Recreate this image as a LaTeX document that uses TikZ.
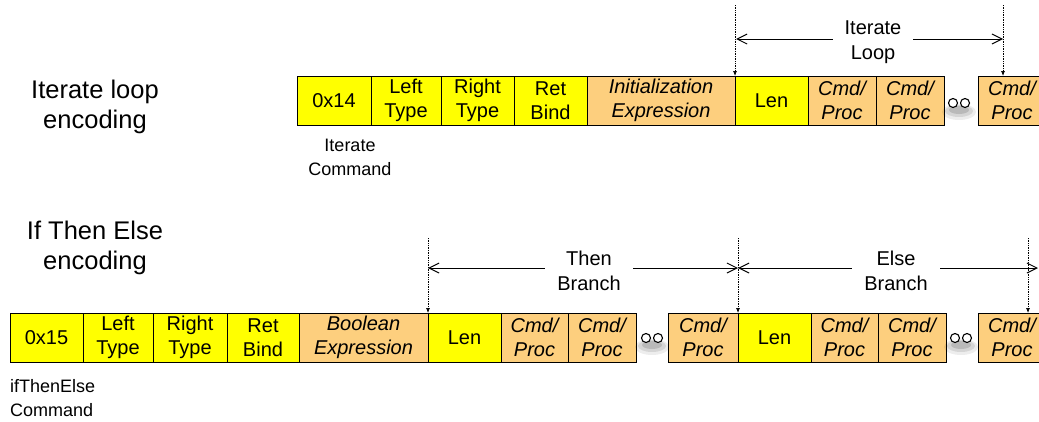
\documentclass[tikz,border=0pt]{standalone}
\usepackage{fontspec}
\setmainfont{Liberation Sans}
\usetikzlibrary{arrows.meta,calc}
\definecolor{cyel}{HTML}{FFFF00}
\definecolor{corg}{HTML}{FDCF7E}
\tikzset{
  cell/.style={draw=black, line width=1pt, inner sep=0pt, outer sep=0pt,
    minimum height=49pt, align=center, font=\fontsize{20}{23.5}\selectfont},
  yel/.style={cell, fill=cyel},
  org/.style={cell, fill=corg, font=\fontsize{20}{23.5}\selectfont\itshape},
  spanlbl/.style={align=center, font=\fontsize{20}{25}\selectfont, fill=white, inner xsep=12pt, inner ysep=1pt},
  sidelbl/.style={align=center, font=\fontsize{25.5}{30}\selectfont, inner sep=0pt},
  cmdlbl/.style={font=\fontsize{18}{24}\selectfont, inner sep=0pt},
  guide/.style={densely dotted, line width=0.7pt, -{Latex[length=5pt,width=4pt]}},
  spanarrow/.style={line width=1pt, {Straight Barb[length=10pt,width=10pt]}-{Straight Barb[length=10pt,width=10pt]}},
  dot/.style={circle, draw=black, fill=white, line width=1.1pt, minimum size=9pt, inner sep=0pt}
}
\newcommand\cellx[6]{%
  \pgfmathsetmacro\cw{#3-#2}%
  \pgfmathsetmacro\cx{(#2+#3)/2}%
  \node[#5, minimum width=\cw pt] (#1) at (\cx,#4) {#6};}
\newcommand\dotpair[4]{%
  \fill[black, opacity=0.07] (#3+6,#4+9) ellipse (17 and 8);
  \fill[black, opacity=0.10] (#3+6,#4+8) ellipse (14 and 6);
  \fill[black, opacity=0.13] (#3+6,#4+7) ellipse (10 and 4);
  \node[dot] (#1) at (#3,#4) {};
  \node[dot] (#2) at (#3+12,#4) {};}
\begin{document}
\begin{tikzpicture}[x=1pt,y=-1pt]
\useasboundingbox (0,0) rectangle (1039,421);
\clip (0,0) rectangle (1039,421);

% ---------- Iterate loop ----------
\node[sidelbl] (itlabel) at (95,107) {Iterate loop\\encoding};

\cellx{a0}{297}{371}{100.5}{yel}{0x14}
\cellx{a1}{371}{441}{100.5}{yel}{Left\\Type}
\cellx{a2}{441}{514}{100.5}{yel}{Right\\Type}
\cellx{a3}{514}{587}{100.5}{yel}{Ret\\Bind}
\cellx{a4}{587}{735}{100.5}{org}{Initialization\\Expression}
\cellx{a5}{735}{808}{100.5}{yel}{Len}
\cellx{a6}{808}{876}{100.5}{org}{Cmd/\\Proc}
\cellx{a7}{876}{944}{100.5}{org}{Cmd/\\Proc}
\cellx{a8}{978}{1046}{100.5}{org}{Cmd/\\Proc}
\dotpair{ad1}{ad2}{953}{103}

\node[cmdlbl, align=center] (itcmd) at (350,157) {Iterate\\Command};

\coordinate (ta) at (735,5);
\coordinate (tb) at (1003,5);
\draw[guide] (ta) -- (a5.north west);
\draw[guide] (tb) -- (tb |- a8.north);
\coordinate (sa) at (736,39);
\coordinate (sb) at (1003,39);
\draw[spanarrow] (sa) -- (sb);
\node[spanlbl] (itloop) at (873,42) {Iterate\\Loop};

% ---------- If Then Else ----------
\node[sidelbl] (iflabel) at (95,248) {If Then Else\\encoding};

\cellx{b0}{10}{83}{337.5}{yel}{0x15}
\cellx{b1}{83}{153}{337.5}{yel}{Left\\Type}
\cellx{b2}{153}{227}{337.5}{yel}{Right\\Type}
\cellx{b3}{227}{299}{337.5}{yel}{Ret\\Bind}
\cellx{b4}{299}{428}{337.5}{org}{Boolean\\Expression}
\cellx{b5}{428}{501}{337.5}{yel}{Len}
\cellx{b6}{501}{568}{337.5}{org}{Cmd/\\Proc}
\cellx{b7}{568}{636}{337.5}{org}{Cmd/\\Proc}
\dotpair{bd1}{bd2}{646}{338}
\cellx{b8}{668}{738}{337.5}{org}{Cmd/\\Proc}
\cellx{b9}{738}{811}{337.5}{yel}{Len}
\cellx{b10}{811}{878}{337.5}{org}{Cmd/\\Proc}
\cellx{b11}{878}{946}{337.5}{org}{Cmd/\\Proc}
\dotpair{bd3}{bd4}{955}{338}
\cellx{b12}{978}{1046}{337.5}{org}{Cmd/\\Proc}

\node[cmdlbl, align=left, anchor=west] (ifcmd) at (10,398) {ifThenElse\\Command};

\coordinate (ua) at (428,238);
\coordinate (ub) at (738,238);
\coordinate (uc) at (1028,238);
\draw[guide] (ua) -- (b5.north west);
\draw[guide] (ub) -- (b9.north west);
\draw[guide] (uc) -- (uc |- b12.north);
\coordinate (va) at (428,268);
\coordinate (vb) at (738,268);
\coordinate (vc) at (1038,268);
\draw[spanarrow] (va) -- (vb);
\draw[spanarrow] (vb) -- (vc);
\node[spanlbl] (thenb) at (589,271) {Then\\Branch};
\node[spanlbl] (elseb) at (896,271) {Else\\Branch};
\end{tikzpicture}
\end{document}
